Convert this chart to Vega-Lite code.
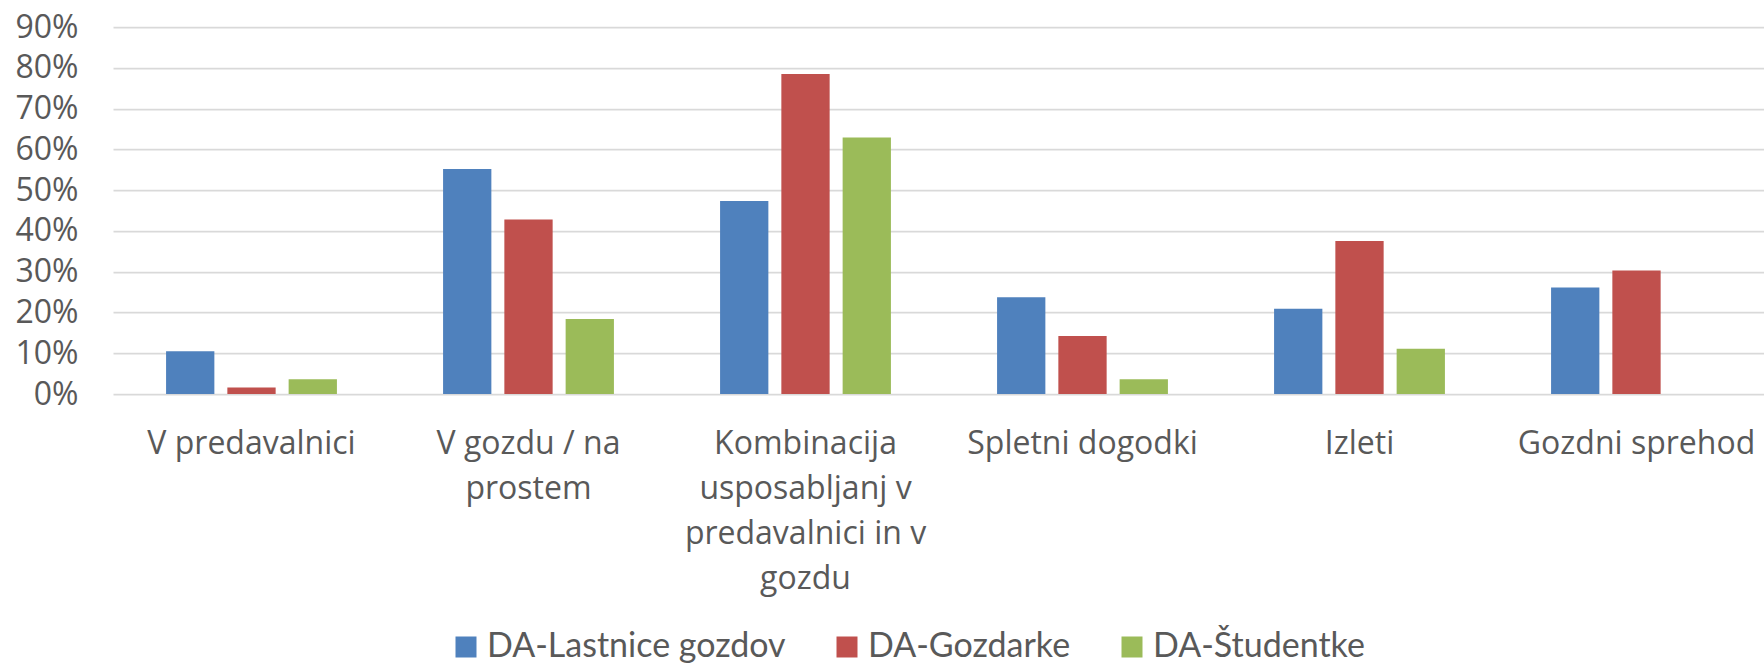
{
  "$schema": "https://vega.github.io/schema/vega-lite/v6.json",
  "width": 1651,
  "height": 367,
  "autosize": {"type": "none"},
  "padding": {"left": 113, "top": 27, "right": 0, "bottom": 271},
  "background": "white",
  "config": {"view": {"stroke": null}, "font": "Open Sans"},
  "data": {
    "values": [
      {"category": "V predavalnici", "series": "DA-Lastnice gozdov", "value": 0.105},
      {"category": "V predavalnici", "series": "DA-Gozdarke", "value": 0.016},
      {"category": "V predavalnici", "series": "DA-Študentke", "value": 0.036},
      {"category": "V gozdu / na prostem", "series": "DA-Lastnice gozdov", "value": 0.552},
      {"category": "V gozdu / na prostem", "series": "DA-Gozdarke", "value": 0.428},
      {"category": "V gozdu / na prostem", "series": "DA-Študentke", "value": 0.184},
      {"category": "Kombinacija usposabljanj v predavalnici in v gozdu", "series": "DA-Lastnice gozdov", "value": 0.473},
      {"category": "Kombinacija usposabljanj v predavalnici in v gozdu", "series": "DA-Gozdarke", "value": 0.785},
      {"category": "Kombinacija usposabljanj v predavalnici in v gozdu", "series": "DA-Študentke", "value": 0.629},
      {"category": "Spletni dogodki", "series": "DA-Lastnice gozdov", "value": 0.237},
      {"category": "Spletni dogodki", "series": "DA-Gozdarke", "value": 0.142},
      {"category": "Spletni dogodki", "series": "DA-Študentke", "value": 0.036},
      {"category": "Izleti", "series": "DA-Lastnice gozdov", "value": 0.209},
      {"category": "Izleti", "series": "DA-Gozdarke", "value": 0.375},
      {"category": "Izleti", "series": "DA-Študentke", "value": 0.111},
      {"category": "Gozdni sprehod", "series": "DA-Lastnice gozdov", "value": 0.261},
      {"category": "Gozdni sprehod", "series": "DA-Gozdarke", "value": 0.303}
    ]
  },
  "mark": {"type": "bar"},
  "encoding": {
    "x": {
      "field": "category",
      "type": "nominal",
      "sort": ["V predavalnici", "V gozdu / na prostem", "Kombinacija usposabljanj v predavalnici in v gozdu", "Spletni dogodki", "Izleti", "Gozdni sprehod"],
      "scale": {"range": [0, 1662], "paddingInner": 0, "paddingOuter": 0},
      "axis": {
        "title": null,
        "domain": false,
        "ticks": false,
        "labelAngle": 0,
        "labelFont": "Open Sans",
        "labelFontSize": 32,
        "labelColor": "#595959",
        "labelPadding": 34,
        "labelLineHeight": 45,
        "labelLimit": 0,
        "labelExpr": "datum.value == 'V gozdu / na prostem' ? ['V gozdu / na', 'prostem'] : datum.value == 'Kombinacija usposabljanj v predavalnici in v gozdu' ? ['Kombinacija', 'usposabljanj v', 'predavalnici in v', 'gozdu'] : datum.label"
      }
    },
    "xOffset": {
      "field": "series",
      "sort": ["DA-Lastnice gozdov", "DA-Gozdarke", "DA-Študentke"],
      "scale": {"paddingInner": 0.212, "paddingOuter": 0.866}
    },
    "y": {
      "field": "value",
      "type": "quantitative",
      "scale": {"domain": [0, 0.9], "nice": false},
      "axis": {
        "title": null,
        "values": [0, 0.1, 0.2, 0.3, 0.4, 0.5, 0.6, 0.7, 0.8, 0.9],
        "format": ".0%",
        "domain": false,
        "ticks": false,
        "grid": true,
        "gridColor": "#d9d9d9",
        "gridWidth": 1.75,
        "labelFont": "Open Sans",
        "labelFontSize": 32,
        "labelColor": "#595959",
        "labelPadding": 35
      }
    },
    "color": {
      "field": "series",
      "type": "nominal",
      "scale": {
        "domain": ["DA-Lastnice gozdov", "DA-Gozdarke", "DA-Študentke"],
        "range": ["#4f81bd", "#c0504d", "#9bbb59"]
      },
      "legend": {
        "title": null,
        "orient": "none",
        "legendX": 336,
        "legendY": 603,
        "direction": "horizontal",
        "columns": 3,
        "symbolType": "square",
        "symbolSize": 441,
        "symbolStrokeWidth": 0,
        "labelFont": "Lato",
        "labelFontSize": 34,
        "labelColor": "#595959",
        "labelOffset": 4,
        "columnPadding": 44,
        "labelLimit": 0
      }
    }
  }
}
